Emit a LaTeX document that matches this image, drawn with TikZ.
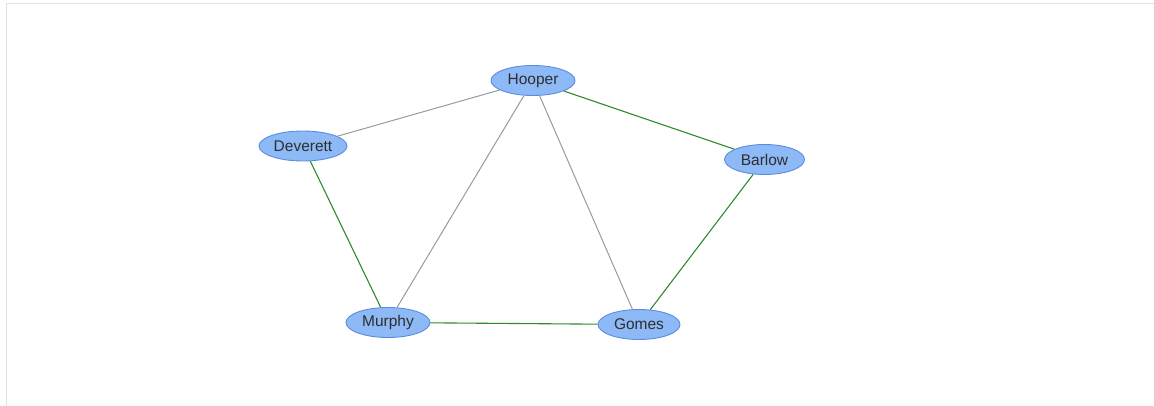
\documentclass[tikz,border=0pt]{standalone}
\usepackage{fontspec}
\setmainfont{Liberation Sans}
\usetikzlibrary{shapes.geometric}
\definecolor{nodefill}{HTML}{8DB9F6}
\definecolor{nodeborder}{HTML}{5A8DDE}
\definecolor{textgray}{HTML}{2E2E2E}
\definecolor{edgegray}{HTML}{9A9A9A}
\definecolor{edgegreen}{HTML}{2E8B2E}
\definecolor{framegray}{HTML}{E2E2E2}
\begin{document}
\begin{tikzpicture}[x=1pt,y=-1pt,
  person/.style={ellipse, draw=nodeborder, fill=nodefill, line width=0.9pt,
    minimum width=84pt, minimum height=30pt, inner sep=0pt,
    text=textgray, font=\fontsize{15.5}{17}\selectfont},
  grayedge/.style={draw=edgegray, line width=1pt},
  greenedge/.style={draw=edgegreen, line width=1.1pt}]
\useasboundingbox (0,0) rectangle (1154,406);
\coordinate (ftr) at (1154,3.5);
\coordinate (fc) at (6.5,3.5);
\coordinate (fbl) at (6.5,406);
\draw[framegray, line width=1.5pt] (ftr) -- (fc) -- (fbl);
\node[person] (hooper) at (533,80.5) {Hooper};
\node[person, minimum width=88pt] (deverett) at (303,146) {Deverett};
\node[person, minimum width=80pt] (barlow) at (764.5,159.5) {Barlow};
\node[person] (murphy) at (388,322.5) {Murphy};
\node[person, minimum width=82pt] (gomes) at (639,324.5) {Gomes};
\path[grayedge] (hooper) -- (deverett);
\path[grayedge] (hooper) -- (murphy);
\path[grayedge] (hooper) -- (gomes);
\path[greenedge] (hooper) -- (barlow);
\path[greenedge] (deverett) -- (murphy);
\path[greenedge] (barlow) -- (gomes);
\path[greenedge] (murphy) -- (gomes);
\end{tikzpicture}
\end{document}
